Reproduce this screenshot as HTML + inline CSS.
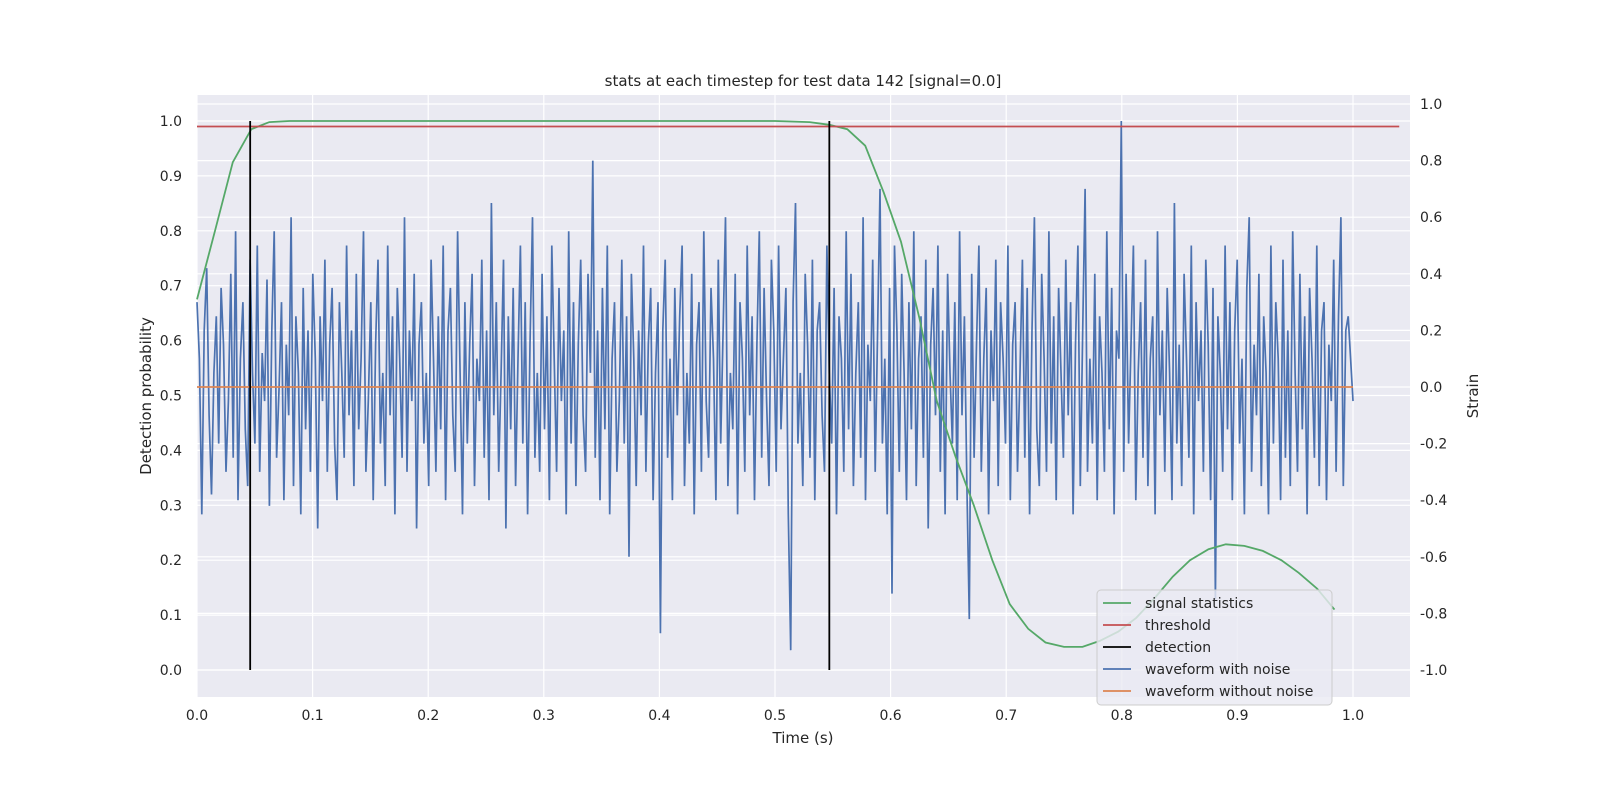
<!DOCTYPE html>
<html><head><meta charset="utf-8"><style>
body{margin:0;background:#fff;}
svg{display:block;font-family:"DejaVu Sans","Liberation Sans",sans-serif;}
</style></head><body>
<svg id="chart" width="1600" height="800"></svg>
<script>
const xTicks=[0,0.1,0.2,0.3,0.4,0.5,0.6,0.7,0.8,0.9,1.0];
const leftTicks=[0,0.1,0.2,0.3,0.4,0.5,0.6,0.7,0.8,0.9,1.0];
const rightTicks=[-1,-0.8,-0.6,-0.4,-0.2,0,0.2,0.4,0.6,0.8,1.0];
const statTimes=[0,0.0156,0.031,0.047,0.0625,0.08,0.1,0.2,0.3,0.4,0.5,0.53,0.547,0.5625,0.578,0.594,0.609,0.625,0.64,0.656,0.672,0.688,0.703,0.719,0.734,0.75,0.766,0.781,0.797,0.8125,0.828,0.844,0.859,0.875,0.89,0.906,0.922,0.938,0.953,0.969,0.984];
const statValues=[0.675,0.8,0.925,0.985,0.998,1,1,1,1,1,1,0.998,0.993,0.985,0.955,0.87,0.78,0.64,0.49,0.39,0.3,0.2,0.12,0.075,0.05,0.042,0.042,0.053,0.07,0.095,0.13,0.17,0.2,0.22,0.229,0.226,0.217,0.2,0.177,0.148,0.11];
const threshold=0.99;
const detections=[0.046,0.547];
const noise=[0.3,0.1,-0.45,0.2,0.42,-0.1,-0.38,0.05,0.25,-0.2,0.35,0.15,-0.3,-0.05,0.4,-0.25,0.55,-0.4,0.1,0.3,-0.15,-0.35,0.45,0.05,
-0.2,0.5,-0.3,0.12,-0.05,0.38,-0.42,0.2,0.55,-0.25,0.0,0.3,-0.4,0.15,-0.1,0.6,-0.35,0.25,0.05,-0.45,0.35,-0.15,0.2,-0.3,
0.4,0.1,-0.5,0.25,-0.05,0.45,-0.3,0.15,0.35,-0.2,-0.4,0.3,0.05,-0.25,0.5,-0.1,0.2,-0.35,0.4,-0.15,0.1,0.55,-0.3,-0.05,
0.3,-0.4,0.15,0.45,-0.2,0.05,-0.35,0.5,-0.1,0.25,-0.45,0.35,0.1,-0.25,0.6,-0.3,0.2,-0.05,0.4,-0.5,0.15,0.3,-0.2,0.05,
-0.35,0.45,0.1,-0.3,0.25,-0.15,0.5,-0.4,0.2,0.35,-0.1,-0.3,0.55,0.05,-0.45,0.3,-0.2,0.15,0.4,-0.35,0.1,-0.05,0.45,-0.25,
0.2,-0.4,0.65,-0.1,0.3,-0.3,0.05,0.45,-0.5,0.25,-0.15,0.35,-0.35,0.1,0.5,-0.2,0.3,-0.45,0.15,0.6,-0.25,0.05,-0.3,0.4,
-0.15,0.25,-0.4,0.5,0.1,-0.3,0.35,-0.05,0.2,-0.45,0.55,-0.2,0.3,-0.35,0.15,0.45,-0.1,-0.3,0.4,0.05,0.8,-0.25,0.2,-0.4,
0.35,-0.15,0.5,-0.45,0.1,0.3,-0.3,-0.05,0.45,-0.2,0.25,-0.6,0.4,0.1,-0.35,0.2,-0.1,0.5,-0.3,0.15,0.35,-0.4,0.05,0.3,
-0.87,0.2,0.45,-0.25,0.1,-0.4,0.35,-0.1,0.25,0.5,-0.35,0.05,-0.2,0.4,-0.45,0.15,0.3,-0.3,0.55,-0.05,-0.25,0.35,0.1,-0.4,
0.45,-0.2,0.2,0.6,-0.35,0.05,-0.15,0.4,-0.45,0.3,0.1,-0.3,0.5,-0.1,0.25,-0.4,0.15,0.55,-0.25,0.35,-0.05,-0.35,0.45,0.2,
-0.3,0.5,-0.15,0.1,0.35,-0.45,-0.93,0.3,0.65,-0.2,0.05,-0.35,0.4,0.15,-0.25,0.45,-0.4,0.2,0.3,-0.1,-0.3,0.5,0.05,-0.2,
0.35,-0.45,0.25,0.1,-0.3,0.55,-0.15,0.4,-0.35,0.05,0.3,-0.25,0.6,-0.4,0.15,-0.05,0.45,-0.3,0.2,0.7,-0.2,0.1,-0.45,0.35,
-0.73,0.5,0.2,-0.3,0.4,0.05,-0.4,0.3,-0.15,0.55,-0.35,0.1,0.25,-0.25,0.45,-0.5,0.15,0.35,-0.1,0.5,-0.3,0.2,-0.45,0.4,
0.05,-0.2,0.3,-0.4,0.55,-0.1,0.25,-0.35,-0.82,0.4,-0.25,0.15,0.5,-0.3,0.1,0.35,-0.45,0.2,-0.05,0.45,-0.35,0.3,0.1,-0.2,
0.5,-0.4,0.15,0.3,-0.3,0.05,0.45,-0.25,0.35,-0.45,0.2,0.6,-0.15,-0.35,0.4,0.1,-0.3,0.55,-0.2,0.25,-0.4,0.35,0.05,-0.25,
0.45,-0.1,0.3,-0.45,0.15,0.5,-0.35,0.2,0.7,-0.3,0.1,-0.2,0.4,-0.4,0.25,0.05,-0.3,0.55,-0.15,0.35,-0.45,0.2,0.1,0.94,
-0.3,0.4,-0.2,0.15,0.5,-0.4,0.05,0.3,-0.25,0.45,-0.35,0.1,0.25,-0.45,0.55,-0.1,0.2,-0.3,0.35,0.05,-0.4,0.65,-0.2,0.15,
-0.35,0.4,0.1,-0.25,0.5,-0.45,0.3,-0.05,0.2,-0.3,0.45,0.15,-0.4,0.35,-0.75,0.25,0.05,-0.3,0.5,-0.15,0.3,-0.4,0.2,0.45,
-0.2,0.1,-0.45,0.35,0.6,-0.3,0.15,-0.1,0.4,-0.35,0.25,0.05,-0.45,0.5,-0.2,0.3,0.1,-0.4,0.45,-0.25,0.2,-0.35,0.55,0.05,
-0.3,0.4,-0.15,0.25,-0.45,0.35,0.1,-0.25,0.5,-0.35,0.2,0.3,-0.4,0.15,-0.05,0.45,-0.3,0.25,0.6,-0.35,0.2,0.25,0.1,-0.05];
const cleanWave=[0,0];

const L=197,R=1410,T=95,B=697;
const X=v=>197+v*1156;
const YL=v=>670-v*549;
const YR=v=>387-v*283;
const NS="http://www.w3.org/2000/svg";
const svg=document.getElementById('chart');
function mk(tag,attrs,parent){const e=document.createElementNS(NS,tag);for(const k in attrs)e.setAttribute(k,attrs[k]);(parent||svg).appendChild(e);return e;}

const bg=mk('rect',{x:L,y:T,width:R-L,height:B-T,fill:'#eaeaf2'});


const grid=mk('g',{stroke:'#fff','stroke-width':1.2});


xTicks.forEach(v=>mk('line',{x1:X(v),x2:X(v),y1:T,y2:B},grid));
leftTicks.forEach(v=>mk('line',{x1:L,x2:R,y1:YL(v),y2:YL(v)},grid));
rightTicks.forEach(v=>mk('line',{x1:L,x2:R,y1:YR(v),y2:YR(v)},grid));

function txt(s,x,y,anchor,size,name,extra){const t=mk('text',Object.assign({x:x,y:y,'text-anchor':anchor,'font-size':size,fill:'#262626'},extra||{}));t.textContent=s;return t;}
xTicks.forEach(v=>txt(v.toFixed(1),X(v),720,'middle',14,'x-tick-label'));
leftTicks.forEach(v=>txt(v.toFixed(1),182,YL(v)+5,'end',14,'left-y-tick-label'));
rightTicks.forEach(v=>txt(v.toFixed(1),1420,YR(v)+5,'start',14,'right-y-tick-label'));
txt('Time (s)',803,743,'middle',15,'x-axis-title');
txt('Detection probability',151,396,'middle',15,'left-y-axis-title',{transform:'rotate(-90 151 396)'});
txt('Strain',1478,396,'middle',15,'right-y-axis-title',{transform:'rotate(-90 1478 396)'});
txt('stats at each timestep for test data 142 [signal=0.0]',803,86,'middle',15,'chart-title');

const n=noise.length;
let d=noise.map((v,i)=>(i?'L':'M')+X(i/(n-1)).toFixed(1)+','+YR(v).toFixed(1)).join('');
const nl=mk('path',{d:d,fill:'none',stroke:'#4c72b0','stroke-width':1.7});


const cl=mk('line',{x1:X(0),x2:X(1),y1:YR(cleanWave[0]),y2:YR(cleanWave[1]),stroke:'#dd8452','stroke-width':1.8});


d=statTimes.map((t,i)=>(i?'L':'M')+X(t).toFixed(1)+','+YL(statValues[i]).toFixed(1)).join('');
const sl=mk('path',{d:d,fill:'none',stroke:'#55a868','stroke-width':1.8});


const th=mk('line',{x1:X(0),x2:X(1.04),y1:YL(threshold),y2:YL(threshold),stroke:'#c44e52','stroke-width':1.8});


detections.forEach(t=>{const l=mk('line',{x1:X(t),x2:X(t),y1:YL(0),y2:YL(1),stroke:'#000','stroke-width':1.8});

});

const lg=mk('g',{});


mk('rect',{x:1097,y:590,width:235,height:115,rx:4,fill:'#eaeaf2','fill-opacity':0.8,stroke:'#ccc'},lg);
const items=[['signal statistics','#55a868'],['threshold','#c44e52'],['detection','#000'],['waveform with noise','#4c72b0'],['waveform without noise','#dd8452']];
items.forEach((it,i)=>{const y=603+i*22;
const ln=mk('line',{x1:1103,x2:1131,y1:y,y2:y,stroke:it[1],'stroke-width':1.8},lg);


const t=txt(it[0],1145,y+5,'start',14,'legend-entry');lg.appendChild(t);});
</script>
</body></html>
